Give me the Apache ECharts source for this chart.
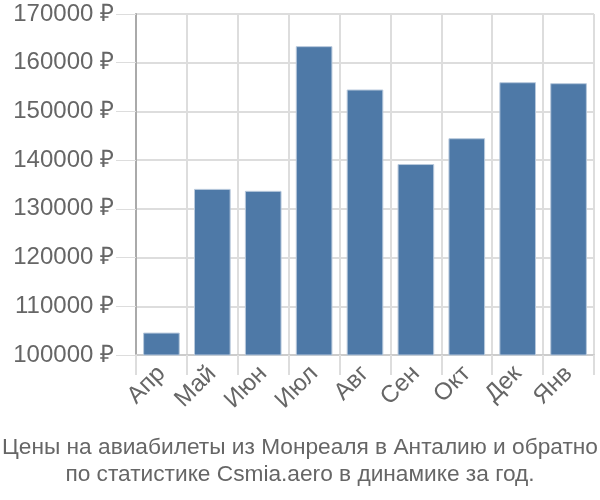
<!DOCTYPE html>
<html><head><meta charset="utf-8">
<script src="https://cdn.jsdelivr.net/npm/echarts@6/dist/echarts.min.js"></script>
<style>html,body{margin:0;padding:0;background:#fff}#c{width:600px;height:500px}</style>
</head><body><div id="c"></div>
<script>
const categories = ['Апр','Май','Июн','Июл','Авг','Сен','Окт','Дек','Янв'];
const prices = [104600, 134100, 133700, 163400, 154500, 139200, 144500, 156000, 155800];
const titleLines = ['Цены на авиабилеты из Монреаля в Анталию и обратно', 'по статистике Csmia.aero в динамике за год.'];
const yMin = 100000, yMax = 170000, yStep = 10000;

const chart = echarts.init(document.getElementById('c'));
chart.setOption({
  animation: false,
  title: {
    text: titleLines.join('\n'),
    left: 'center', bottom: 7,
    textStyle: { fontFamily: 'Liberation Sans, Arial', fontSize: 22.7, fontWeight: 'normal', color: '#666', lineHeight: 27 }
  },
  grid: { left: 136, right: 6, top: 14, bottom: 145 },
  xAxis: {
    type: 'category', data: categories,
    axisLine: { lineStyle: { color: '#ccc', width: 2 } },
    axisTick: { show: true, length: 20, lineStyle: { color: '#ddd', width: 2 } },
    splitLine: { show: true, lineStyle: { color: '#ddd', width: 2 } },
    axisLabel: { rotate: 45, fontFamily: 'Liberation Sans, Arial', fontSize: 24, color: '#666', margin: 15 }
  },
  yAxis: {
    type: 'value', min: yMin, max: yMax, interval: yStep,
    axisLine: { show: true, lineStyle: { color: '#aaa', width: 2 } },
    axisTick: { show: true, length: 20, lineStyle: { color: '#ddd', width: 1 } },
    splitLine: { show: true, lineStyle: { color: '#ddd', width: 2 } },
    axisLabel: { formatter: v => v + ' ₽', fontFamily: 'Liberation Sans, Arial', fontSize: 24, color: '#666', margin: 22 }
  },
  series: [{
    type: 'bar', data: prices, barWidth: '72%',
    itemStyle: { color: '#4e79a7', borderColor: '#b8c9dc', borderWidth: 1 }
  }]
});
</script></body></html>
